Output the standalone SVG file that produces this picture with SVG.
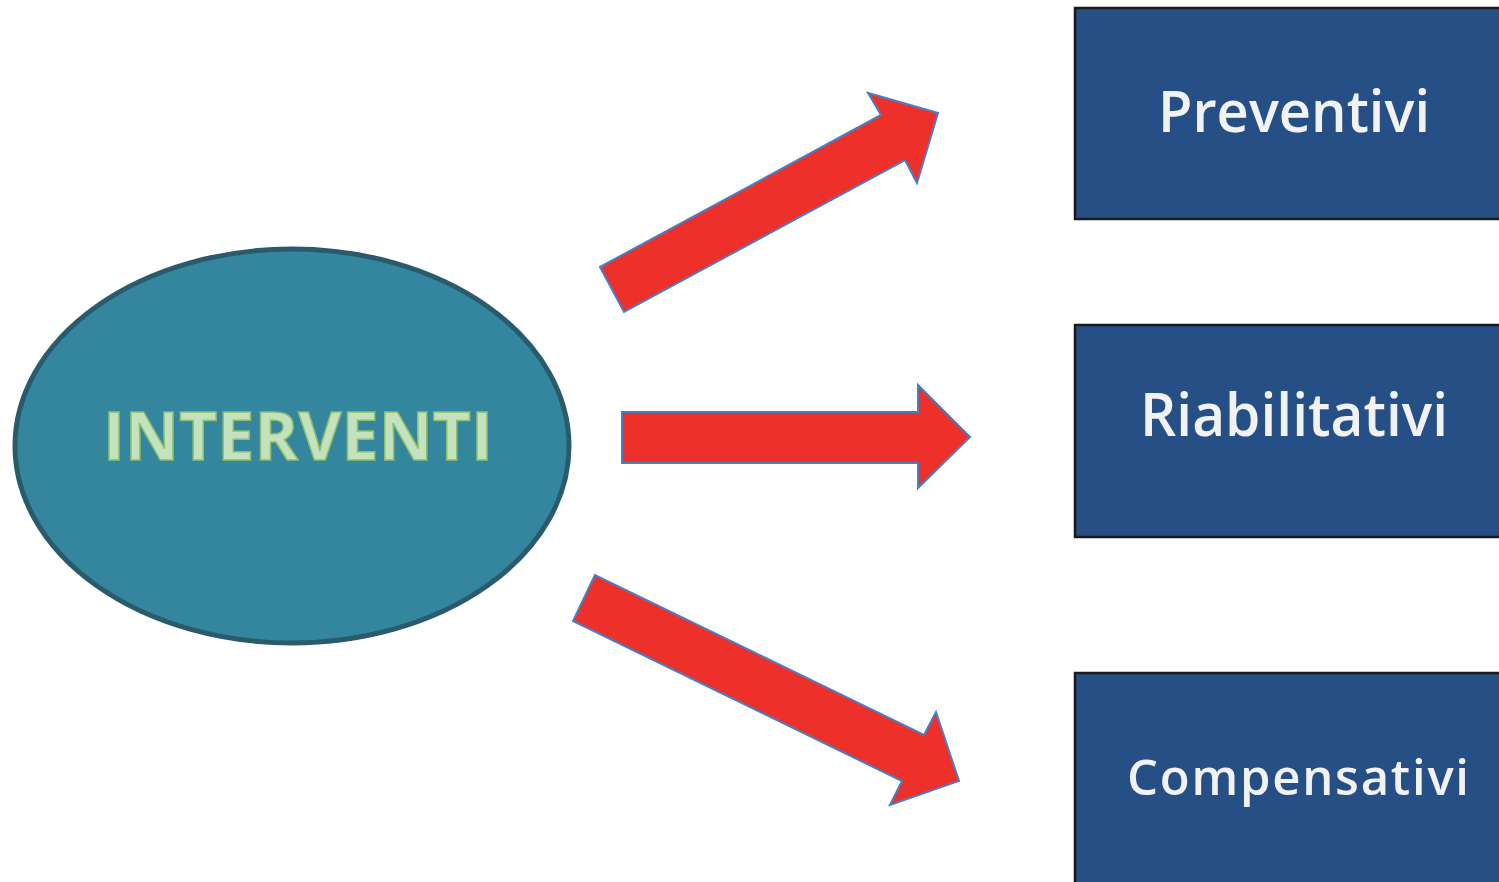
<svg xmlns="http://www.w3.org/2000/svg" width="1499" height="882" viewBox="0 0 1499 882">
<style>
.box{fill:#264f86;stroke:#1a1a1a;stroke-width:2.5}
.arrow{fill:#ee302b;stroke:#4a7ec4;stroke-width:2;stroke-linejoin:miter}
.lbl{font-family:"Open Sans","Liberation Sans",sans-serif;font-weight:600;fill:#f2f2f2;text-anchor:start}
.main{font-family:"Open Sans","Liberation Sans",sans-serif;font-weight:700;fill:#c4e2bd;stroke:#8cbf6a;stroke-width:1.5}
</style>
<rect width="1499" height="882" fill="#ffffff"/>
<g id="interventi">
<ellipse cx="292" cy="446" rx="277" ry="197" fill="#33869e" stroke="#2a5b6c" stroke-width="5"/>
<text class="main" x="103" y="460" font-size="66" textLength="390" lengthAdjust="spacingAndGlyphs">INTERVENTI</text>
</g>
<g id="connectors">
<polygon class="arrow" points="600,267 624,312 905,160 917,183 938,113 868,93 881,115"/>
<polygon class="arrow" points="622,412 918,412 918,385 970,437 918,488 918,463 622,463"/>
<polygon class="arrow" points="595,575 573,621 902,781 890,805 959,781 936,712 924,735"/>
</g>
<g id="preventivi">
<rect class="box" x="1075" y="8" width="440" height="211"/>
<text class="lbl" x="1158" y="132" font-size="57" textLength="272" lengthAdjust="spacingAndGlyphs">Preventivi</text>
</g>
<g id="riabilitativi">
<rect class="box" x="1075" y="325" width="440" height="212"/>
<text class="lbl" x="1140" y="436" font-size="60" textLength="308" lengthAdjust="spacingAndGlyphs">Riabilitativi</text>
</g>
<g id="compensativi">
<rect class="box" x="1075" y="673" width="440" height="230"/>
<text class="lbl" x="1127" y="795" font-size="49" textLength="342" lengthAdjust="spacing">Compensativi</text>
</g>
</svg>
